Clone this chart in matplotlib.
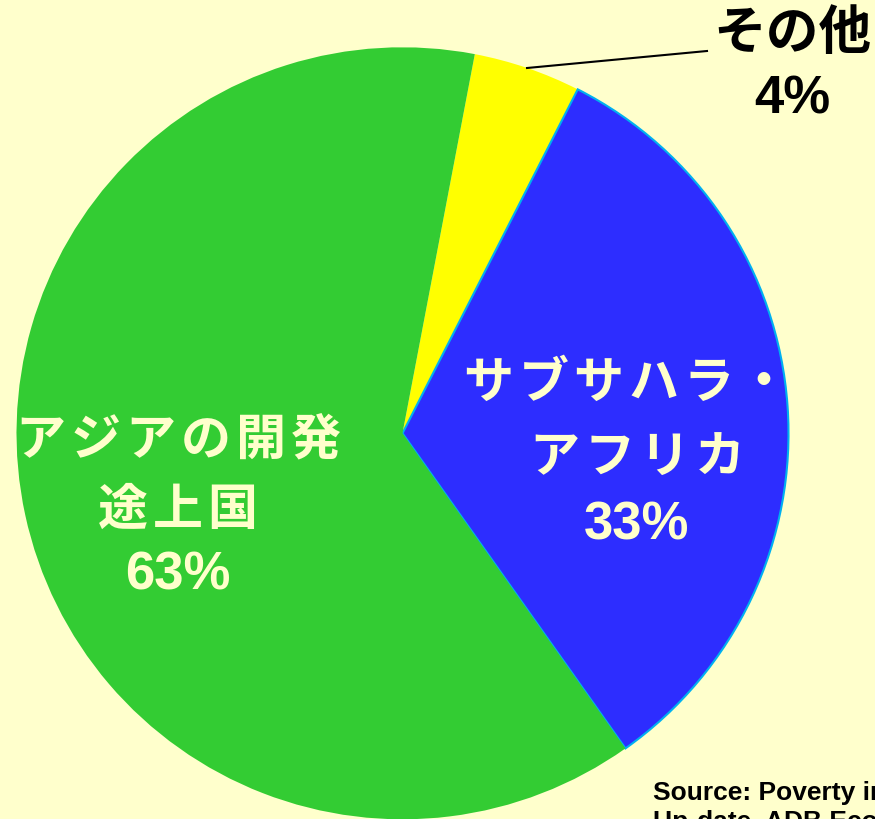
import matplotlib
matplotlib.use("Agg")
import matplotlib.pyplot as plt

categories = ["その他", "サブサハラ・アフリカ", "アジアの開発途上国"]
values = [4.5, 32.7, 62.8]
pct_labels = ["4%", "33%", "63%"]
colors = ["#FFFF00", "#2D2DFF", "#33CC33"]

BG = "#FFFFCC"
W, H = 875, 819
fig = plt.figure(figsize=(W / 100, H / 100), dpi=100, facecolor=BG)
ax = fig.add_axes([0, 0, 1, 1])
ax.set_facecolor(BG)

cx, cy, r = 402.5, H - 433.3, 386
wedges, _ = ax.pie(values, colors=colors, startangle=79.2, counterclock=False,
                   center=(cx, cy), radius=r, frame=True)
ax.set_xlim(0, W)
ax.set_ylim(0, H)
ax.set_aspect("equal")
ax.axis("off")
wedges[1].set_edgecolor("#00B0F0")
wedges[1].set_linewidth(1.5)

jp = ["Noto Sans CJK JP", "DejaVu Sans"]
num = ["Liberation Sans", "DejaVu Sans"]
light = "#FFFFCC"
HS = "\u200a"


def spaced(s):
    return HS.join(s)


FS = 36

# Green label
ax.text(178, H - 440, spaced("アジアの開発"), family=jp, fontsize=FS,
        fontweight="bold", color=light, ha="center", va="center")
ax.text(178, H - 510, spaced("途上国"), family=jp, fontsize=FS,
        fontweight="bold", color=light, ha="center", va="center")
ax.text(178, H - 575, pct_labels[2], family=num, fontsize=38, fontweight="bold",
        color=light, ha="center", va="center")

# Blue label
ax.text(627, H - 383, spaced("サブサハラ・"), family=jp, fontsize=FS,
        fontweight="bold", color=light, ha="center", va="center")
ax.text(637, H - 458, spaced("アフリカ"), family=jp, fontsize=FS,
        fontweight="bold", color=light, ha="center", va="center")
ax.text(637, H - 525, pct_labels[1], family=num, fontsize=38, fontweight="bold",
        color=light, ha="center", va="center")

# Yellow label (outside)
ax.text(792, H - 33, categories[0], family=jp, fontsize=38, fontweight="bold",
        color="black", ha="center", va="center")
ax.text(792, H - 100, pct_labels[0], family=num, fontsize=38, fontweight="bold",
        color="black", ha="center", va="center")
ax.plot([527, 707], [H - 68, H - 51], color="black", lw=1.5)

# Source
ax.text(653, H - 793, "Source: Poverty in Asia", family=num, fontsize=19,
        fontweight="bold", color="black", ha="left", va="center")
ax.text(653, H - 822, "Up-date, ADB Economics", family=num, fontsize=19,
        fontweight="bold", color="black", ha="left", va="center")

fig.savefig("out.png", dpi=100, facecolor=BG)
